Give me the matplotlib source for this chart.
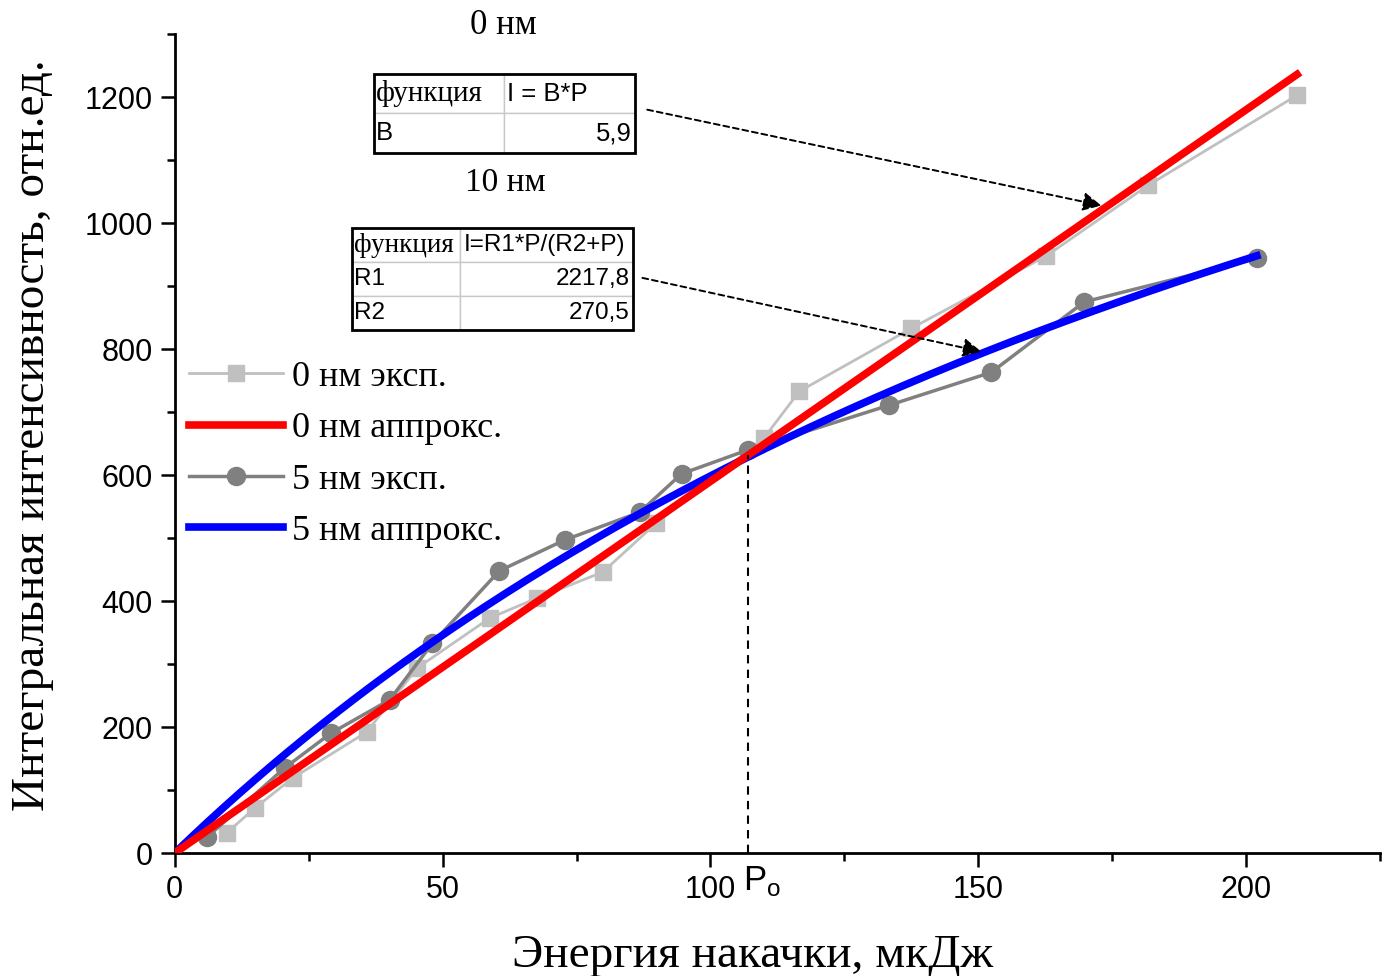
import matplotlib
matplotlib.use("Agg")
import matplotlib.pyplot as plt
from matplotlib.patches import Rectangle
import numpy as np

# 0 nm sample, measured points
p_0nm = [9.7, 14.9, 22.0, 35.8, 45.3, 58.8, 67.7, 79.9, 89.9, 110.0, 116.6, 137.5, 162.7, 181.7, 209.5]
i_0nm = [32, 71, 119, 192, 294, 373, 405, 446, 524, 659, 733, 833, 948, 1060, 1203]

# 5 nm sample, measured points
p_5nm = [6.0, 20.5, 29.1, 40.1, 48.1, 60.6, 72.8, 86.8, 94.6, 107.0, 133.4, 152.4, 169.8, 202.0]
i_5nm = [25, 135, 190, 243, 333, 448, 497, 541, 602, 640, 711, 763, 875, 944]

# fit parameters
B = 5.9
R1 = 2217.8
R2 = 270.5
p_fit_0nm_max = 209.5
p_fit_5nm_max = 202.0
P0 = 107.0

serif = "Liberation Serif"
sans = "Liberation Sans"

fig = plt.figure(figsize=(13.87, 9.76), dpi=100)
ax = fig.add_axes([0.126, 0.126, 0.869, 0.839])

ax.plot(p_0nm, i_0nm, color="#c0c0c0", lw=2, marker="s", ms=12, mec="#c0c0c0",
        label="0 нм эксп.", zorder=2)
ax.plot(p_5nm, i_5nm, color="#808080", lw=2.5, marker="o", ms=13, mec="#808080",
        label="5 нм эксп.", zorder=2)

pp = np.linspace(0, p_fit_5nm_max, 200)
ax.plot(pp, R1 * pp / (R2 + pp), color="#0000ff", lw=5.5, label="5 нм аппрокс.", zorder=3)
pl = np.linspace(0, p_fit_0nm_max, 2)
ax.plot(pl, B * pl, color="#ff0000", lw=5.5, label="0 нм аппрокс.", zorder=4)

# threshold P0 where the two fits cross
ax.plot([P0, P0], [0, B * P0], color="black", lw=1.5, ls=(0, (4, 3)), zorder=5)
ax.annotate(r"P$_\mathregular{o}$", xy=(P0, 0), xycoords="data", xytext=(10, -8),
            textcoords="offset points", ha="center", va="top",
            fontsize=25, family=sans)

ax.set_xlim(0, 225)
ax.set_ylim(0, 1300)
ax.set_xticks([0, 50, 100, 150, 200])
ax.set_xticks(np.arange(25, 226, 50), minor=True)
ax.set_yticks(np.arange(0, 1201, 200))
ax.set_yticks(np.arange(100, 1301, 200), minor=True)
for s in ["top", "right"]:
    ax.spines[s].set_visible(False)
for s in ["left", "bottom"]:
    ax.spines[s].set_linewidth(2)
ax.tick_params(which="major", direction="out", length=10, width=1.8, labelsize=22, pad=6)
ax.tick_params(which="minor", direction="out", length=6, width=1.8)
for lab in ax.get_xticklabels() + ax.get_yticklabels():
    lab.set_family(sans)

ax.set_xlabel("Энергия накачки, мкДж", family=serif, fontsize=34)
ax.set_ylabel("Интегральная интенсивность, отн.ед.", family=serif, fontsize=34)
ax.xaxis.set_label_coords(0.479, -0.1)
ax.yaxis.set_label_coords(-0.1, 0.51)

h, l = ax.get_legend_handles_labels()
order = ["0 нм эксп.", "0 нм аппрокс.", "5 нм эксп.", "5 нм аппрокс."]
hh = [h[l.index(o)] for o in order]
ax.legend(hh, order, loc="upper left", bbox_to_anchor=(0.0, 0.619), frameon=False,
          prop={"family": serif, "size": 26}, handlelength=2.6, handletextpad=0.25,
          labelspacing=0.5, borderaxespad=0)


def fit_table(cells, bbox, widths, size, serif_size):
    tb = ax.table(cellText=cells, bbox=bbox, colWidths=widths, cellLoc="left", zorder=6)
    tb.auto_set_font_size(False)
    for (r, c), cell in tb.get_celld().items():
        cell.set_edgecolor("#c8c8c8")
        cell.set_linewidth(1)
        cell.PAD = 0.02
        t = cell.get_text()
        if cells[r][c] == "функция":
            t.set_family(serif)
            t.set_fontsize(serif_size)
        else:
            t.set_family(sans)
            t.set_fontsize(size)
        if c == 1 and r > 0:
            t.set_ha("right")
    ax.add_patch(Rectangle(bbox[:2], bbox[2], bbox[3], transform=ax.transAxes,
                           fill=False, ec="black", lw=2, zorder=7, clip_on=False))
    return tb


fit_table([["функция", "I = B*P"], ["B", "5,9"]],
          [0.165, 0.855, 0.2166, 0.0965], [0.5, 0.5], 18.5, 21)
fit_table([["функция", "I=R1*P/(R2+P)"], ["R1", "2217,8"], ["R2", "270,5"]],
          [0.1469, 0.6386, 0.2332, 0.1245], [0.385, 0.615], 17.5, 19.5)

fig.text(0.3627, 0.974, "0 нм", family=serif, fontsize=25, ha="center", va="center")
fig.text(0.364, 0.813, "10 нм", family=serif, fontsize=24, ha="center", va="center")

arrow = dict(arrowstyle="-|>", color="black", lw=1.4, ls=(0, (3, 2)), mutation_scale=28)
ax.annotate("", xy=(173.5, 1027), xytext=(87.7, 1181), arrowprops=arrow, zorder=8)
ax.annotate("", xy=(151.1, 795), xytext=(86.8, 914), arrowprops=arrow, zorder=8)

fig.savefig("out.png", dpi=100)
